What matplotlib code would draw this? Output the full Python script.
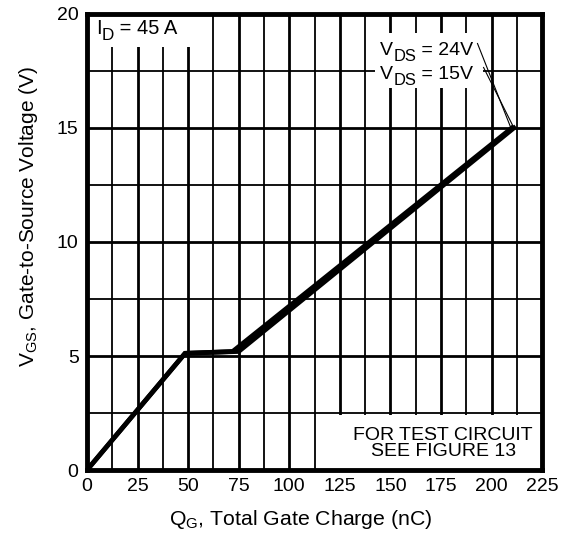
import matplotlib
matplotlib.use("Agg")
import matplotlib.pyplot as plt
from matplotlib.patches import Rectangle

plt.rcParams.update({"font.family": ["Liberation Sans", "DejaVu Sans"], "font.size": 13})

# gate charge curves (nC, V)
QG_15 = [0, 48.5, 72.0, 210]
VGS_15 = [0, 5.12, 5.2, 15]
QG_24 = [0, 48.5, 75.0, 211]
VGS_24 = [0, 5.12, 5.2, 15]

X_TICKS = [0, 25, 50, 75, 100, 125, 150, 175, 200, 225]
Y_TICKS = [0, 5, 10, 15, 20]


def sub_label(ax, x, y, main, sub, rest, size=13):
    # text with a big, lowered subscript like the datasheet font
    t0 = ax.text(x, y, main, fontsize=size, va="baseline", zorder=5)
    t1 = ax.annotate(sub, xy=(1, 0), xycoords=t0, xytext=(0, -3.5),
                     textcoords="offset points", fontsize=size * 0.85,
                     va="bottom", ha="left", zorder=5)
    ax.annotate(rest, xy=(1, 0), xycoords=(t1, t0), fontsize=size,
                va="bottom", ha="left", zorder=5)


def main():
    fig = plt.figure(figsize=(5.72, 5.33), dpi=100)
    ax = fig.add_axes([0.152, 0.118, 0.796, 0.856])
    ax.set_xlim(0, 225)
    ax.set_ylim(0, 20)
    ax.set_xticks(X_TICKS)
    ax.set_yticks(Y_TICKS)
    ax.set_xticks([x + 12.5 for x in X_TICKS[:-1]], minor=True)
    ax.set_yticks([y + 2.5 for y in Y_TICKS[:-1]], minor=True)
    ax.tick_params(which="both", length=0, pad=6, labelsize=14)
    ax.grid(which="major", color="black", lw=2.0)
    ax.grid(which="minor", color="black", lw=1.3)
    for s in ax.spines.values():
        s.set_linewidth(3.5)

    # white masks behind the labels
    for r in [(0, 0.928, 0.25, 0.08), (0.633, 0.838, 0.237, 0.12), (0.527, 0, 0.48, 0.12)]:
        ax.add_patch(Rectangle(r[:2], r[2], r[3], transform=ax.transAxes,
                               facecolor="white", edgecolor="none", zorder=2.5))

    ax.plot(QG_15, VGS_15, color="black", lw=3.4, solid_joinstyle="miter", zorder=4)
    ax.plot(QG_24, VGS_24, color="black", lw=3.4, solid_joinstyle="miter", zorder=4)

    sub_label(ax, 4.5, 19.1, "I", "D", " = 45 A", size=14.5)
    sub_label(ax, 145, 18.2, "V", "DS", " = 24V", size=14)
    sub_label(ax, 145, 17.15, "V", "DS", " = 15V", size=14)
    ax.plot([193, 209.5], [18.7, 15.0], color="black", lw=0.8, zorder=5)
    ax.plot([196, 211], [17.65, 15.0], color="black", lw=0.8, zorder=5)
    ax.text(176, 1.16, "FOR TEST CIRCUIT\nSEE FIGURE 13", fontsize=14, ha="center",
            va="center", linespacing=0.95, zorder=5)

    ax.set_xlabel(r"Q$_\mathregular{G}$, Total Gate Charge (nC)", fontsize=15.3)
    ax.set_ylabel(r"V$_\mathregular{GS}$, Gate-to-Source Voltage (V)", fontsize=15)
    ax.xaxis.set_label_coords(0.47, -0.083)
    ax.yaxis.set_label_coords(-0.103, 0.555)
    fig.savefig("out.png", dpi=100)


if __name__ == "__main__":
    main()
